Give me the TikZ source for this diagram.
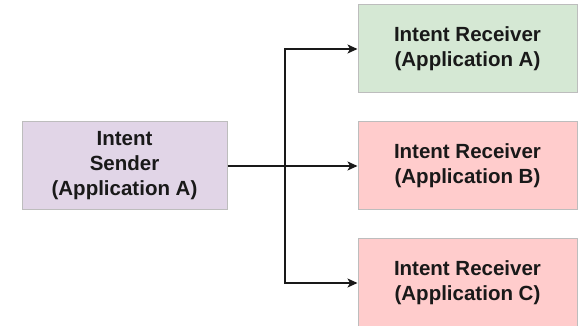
\documentclass[tikz,border=0pt]{standalone}
\usepackage{fontspec}
\setmainfont{Liberation Sans}
\usetikzlibrary{arrows.meta}
\definecolor{purplefill}{HTML}{E1D5E7}
\definecolor{greenfill}{HTML}{D5E8D4}
\definecolor{redfill}{HTML}{FFCCCC}
\definecolor{boxline}{HTML}{BDBDBD}
\tikzset{
  boxnode/.style={draw=boxline, line width=1pt, minimum height=88pt, align=center,
    font=\fontsize{20.5}{25}\selectfont\bfseries, text=black!90, inner sep=0pt},
  sendbox/.style={boxnode, fill=purplefill, minimum width=205pt},
  recvbox/.style={boxnode, minimum width=219pt},
  conn/.style={line width=1.3pt, draw=black!90, -{Stealth[length=10pt,width=9pt,inset=2.5pt]}}
}
\begin{document}
\begin{tikzpicture}[x=1pt,y=-1pt]
\useasboundingbox (0,0) rectangle (582,326);
\node[sendbox] (s) at (124.5,166) {Intent\\Sender\\(Application A)};
\node[recvbox, fill=greenfill] (ra) at (467.5,49) {Intent Receiver\\(Application A)};
\node[recvbox, fill=redfill] (rb) at (467.5,166) {Intent Receiver\\(Application B)};
\node[recvbox, fill=redfill] (rc) at (467.5,283) {Intent Receiver\\(Application C)};
\coordinate (j) at (285,166);
\draw[conn] (s.east) -- (rb.west);
\draw[conn] (j) |- (ra.west);
\draw[conn] (j) |- (rc.west);
\end{tikzpicture}
\end{document}
